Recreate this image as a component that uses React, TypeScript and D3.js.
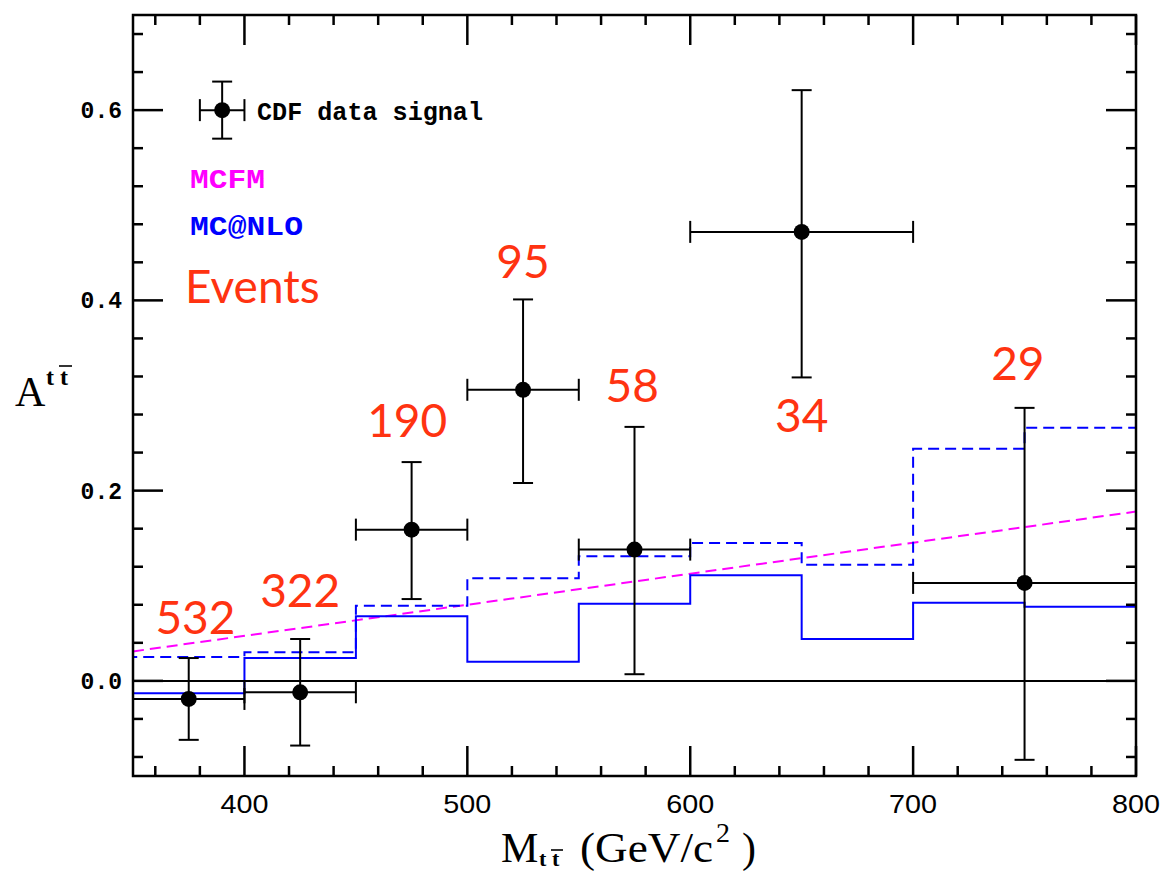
import React from 'react';
import * as d3 from 'd3';

// MC@NLO histograms, 50 GeV bins
const binEdges = [350, 400, 450, 500, 550, 600, 650, 700, 750, 800];
const mcnloSolid = [-0.013, 0.024, 0.068, 0.020, 0.081, 0.111, 0.044, 0.082, 0.078];
const mcnloDashed = [0.025, 0.030, 0.079, 0.108, 0.131, 0.145, 0.122, 0.244, 0.266];

// MCFM straight line
const mcfmMass = [350, 800];
const mcfmAsym = [0.031, 0.178];

// CDF data signal
const cdfMass = [375, 425, 475, 525, 575, 650, 750];
const cdfLow = [350, 400, 450, 500, 550, 600, 700];
const cdfHigh = [400, 450, 500, 550, 600, 700, 800];
const cdfAsym = [-0.019, -0.012, 0.159, 0.306, 0.138, 0.472, 0.103];
const cdfErrUp = [0.024, 0.044, 0.230, 0.401, 0.267, 0.621, 0.287];
const cdfErrDown = [-0.062, -0.068, 0.086, 0.208, 0.007, 0.319, -0.083];

// event counts written on the plot
const eventCounts = ['532', '322', '190', '95', '58', '34', '29'];
const eventMass = [378, 425, 473, 525, 574, 650, 747];
const eventAsym = [0.049, 0.078, 0.256, 0.424, 0.293, 0.262, 0.316];

const xTickLabels = ['400', '500', '600', '700', '800'];
const yTickLabels = ['0.0', '0.2', '0.4', '0.6'];

const width = 1165;
const height = 872;
const margin = {top: 15, right: 29, bottom: 96, left: 133};
const red = '#ff3311';

const App = () => {
    const x = d3.scaleLinear().domain([350, 800]).range([margin.left, width - margin.right]);
    const y = d3.scaleLinear().domain([-0.1, 0.7]).range([height - margin.bottom, margin.top]);
    const [x0, x1] = x.range();
    const [y0, y1] = y.range();

    const step = d3.line<[number, number]>()
        .x(d => x(d[0]))
        .y(d => y(d[1]))
        .curve(d3.curveStepAfter);
    // starts on the zero line at the left edge, then steps through the bins
    const histPath = (vals: number[]) => {
        const pts: [number, number][] = [
            ...vals.map((v, i) => [binEdges[i], v] as [number, number]),
            [binEdges[binEdges.length - 1], vals[vals.length - 1]],
        ];
        return `M${x(binEdges[0])},${y(0)}L` + step(pts)!.slice(1);
    };

    const mcfmLine = d3.line<number>()
        .x((_, i) => x(mcfmMass[i]))
        .y(d => y(d));

    const xMajor = xTickLabels.map(Number);
    const xMinor = d3.range(360, 800, 20).filter(v => !xMajor.includes(v));
    const yMajor = yTickLabels.map(Number);
    const yMinor = d3.range(-2, 18).filter(k => k % 5 !== 0).map(k => k * 0.04);

    const cap = 10;
    const mono = '"Liberation Mono", "DejaVu Sans Mono", monospace';
    const serif = '"Liberation Serif", "DejaVu Serif", serif';

    return (
        <div style={{position: 'absolute', left: 0, top: 0}}>
            <svg width={width} height={height} style={{display: 'block', background: '#fff'}}>
                {/* MCFM */}
                <path d={mcfmLine(mcfmAsym)!} fill="none" stroke="#ff00ff" strokeWidth={2}
                      strokeDasharray="11,6"/>
                {/* MC@NLO */}
                <path d={histPath(mcnloDashed)} fill="none" stroke="#0000ff" strokeWidth={2}
                      strokeDasharray="11,6"/>
                <path d={histPath(mcnloSolid)} fill="none" stroke="#0000ff" strokeWidth={2}/>

                {/* zero line */}
                <line x1={x0} x2={x1} y1={y(0)} y2={y(0)} stroke="#000" strokeWidth={2}/>

                {/* data points */}
                {cdfMass.map((m, i) => (
                    <g key={i} stroke="#000" strokeWidth={2}>
                        <line x1={x(cdfLow[i])} x2={x(cdfHigh[i])} y1={y(cdfAsym[i])} y2={y(cdfAsym[i])}/>
                        <line x1={x(cdfLow[i])} x2={x(cdfLow[i])} y1={y(cdfAsym[i]) - 11} y2={y(cdfAsym[i]) + 11}/>
                        <line x1={x(cdfHigh[i])} x2={x(cdfHigh[i])} y1={y(cdfAsym[i]) - 11} y2={y(cdfAsym[i]) + 11}/>
                        <line x1={x(m)} x2={x(m)} y1={y(cdfErrUp[i])} y2={y(cdfErrDown[i])}/>
                        <line x1={x(m) - cap} x2={x(m) + cap} y1={y(cdfErrUp[i])} y2={y(cdfErrUp[i])}/>
                        <line x1={x(m) - cap} x2={x(m) + cap} y1={y(cdfErrDown[i])} y2={y(cdfErrDown[i])}/>
                        <circle cx={x(m)} cy={y(cdfAsym[i])} r={8} fill="#000" stroke="none"/>
                    </g>
                ))}

                {/* event counts */}
                {eventCounts.map((t, i) => (
                    <text key={t} x={x(eventMass[i])} y={y(eventAsym[i])} textAnchor="middle"
                          fontFamily="Lato, 'Open Sans', sans-serif" fontSize={46} fill={red}>{t}</text>
                ))}
                <text x={185} y={303} fontFamily="Lato, 'Open Sans', sans-serif" fontSize={46} fill={red}>Events</text>

                {/* legend */}
                <g stroke="#000" strokeWidth={2}>
                    <line x1={x(380)} x2={x(400)} y1={y(0.6)} y2={y(0.6)}/>
                    <line x1={x(380)} x2={x(380)} y1={y(0.6) - 11} y2={y(0.6) + 11}/>
                    <line x1={x(400)} x2={x(400)} y1={y(0.6) - 11} y2={y(0.6) + 11}/>
                    <line x1={x(390)} x2={x(390)} y1={y(0.63)} y2={y(0.57)}/>
                    <line x1={x(390) - cap} x2={x(390) + cap} y1={y(0.63)} y2={y(0.63)}/>
                    <line x1={x(390) - cap} x2={x(390) + cap} y1={y(0.57)} y2={y(0.57)}/>
                    <circle cx={x(390)} cy={y(0.6)} r={8} fill="#000" stroke="none"/>
                </g>
                <text x={257} y={120} fontFamily={mono} fontSize={25} fontWeight="bold" fill="#000"
                      textLength={226} lengthAdjust="spacingAndGlyphs">CDF data signal</text>
                <text x={190} y={188} fontFamily={mono} fontSize={27} fontWeight="bold" fill="#ff00ff"
                      textLength={75} lengthAdjust="spacingAndGlyphs">MCFM</text>
                <text x={190} y={235} fontFamily={mono} fontSize={27} fontWeight="bold" fill="#0000ff"
                      textLength={113} lengthAdjust="spacingAndGlyphs">MC@NLO</text>

                {/* frame and ticks */}
                <g stroke="#000" strokeWidth={2.5}>
                    <rect x={x0} y={y1} width={x1 - x0} height={y0 - y1} fill="none"/>
                    {xMajor.map(v => (
                        <g key={'xM' + v}>
                            <line x1={x(v)} x2={x(v)} y1={y0} y2={y0 - 30}/>
                            <line x1={x(v)} x2={x(v)} y1={y1} y2={y1 + 30}/>
                        </g>
                    ))}
                    {xMinor.map(v => (
                        <g key={'xm' + v}>
                            <line x1={x(v)} x2={x(v)} y1={y0} y2={y0 - 10}/>
                            <line x1={x(v)} x2={x(v)} y1={y1} y2={y1 + 10}/>
                        </g>
                    ))}
                    {yMajor.map(v => (
                        <g key={'yM' + v}>
                            <line x1={x0} x2={x0 + 30} y1={y(v)} y2={y(v)}/>
                            <line x1={x1} x2={x1 - 30} y1={y(v)} y2={y(v)}/>
                        </g>
                    ))}
                    {yMinor.map(v => (
                        <g key={'ym' + v}>
                            <line x1={x0} x2={x0 + 10} y1={y(v)} y2={y(v)}/>
                            <line x1={x1} x2={x1 - 10} y1={y(v)} y2={y(v)}/>
                        </g>
                    ))}
                </g>

                {/* tick labels */}
                {xTickLabels.map(t => (
                    <text key={t} x={x(+t)} y={y0 + 37} textAnchor="middle"
                          fontFamily='"Liberation Sans", Arial, sans-serif' fontSize={26} fill="#000"
                          textLength={48} lengthAdjust="spacingAndGlyphs">{t}</text>
                ))}
                {yTickLabels.map(t => (
                    <text key={t} x={x0 - 11} y={y(+t) + 8} textAnchor="end"
                          fontFamily={mono} fontSize={23} fontWeight="bold" fill="#000">{t}</text>
                ))}

                {/* x axis title: M_{t tbar} (GeV/c^2) */}
                <g fontFamily={serif} fill="#000">
                    <text x={501} y={862} fontSize={42}>M</text>
                    <text x={539} y={866} fontSize={22} fontWeight="bold">t</text>
                    <text x={552} y={866} fontSize={22} fontWeight="bold">t</text>
                    <text x={580} y={862} fontSize={42} textLength={133} lengthAdjust="spacingAndGlyphs">(GeV/c</text>
                    <text x={716} y={842} fontSize={28}>2</text>
                    <text x={742} y={862} fontSize={42}>)</text>
                </g>
                <line x1={551} x2={563} y1={850} y2={850} stroke="#000" strokeWidth={1.6}/>

                {/* y axis title: A^{t tbar} */}
                <g fontFamily={serif} fill="#000">
                    <text x={15} y={406} fontSize={42}>A</text>
                    <text x={46} y={385} fontSize={24} fontWeight="bold">t</text>
                    <text x={60} y={385} fontSize={24} fontWeight="bold">t</text>
                </g>
                <line x1={59} x2={72} y1={366} y2={366} stroke="#000" strokeWidth={1.6}/>
            </svg>
        </div>
    );
};

export default App;
